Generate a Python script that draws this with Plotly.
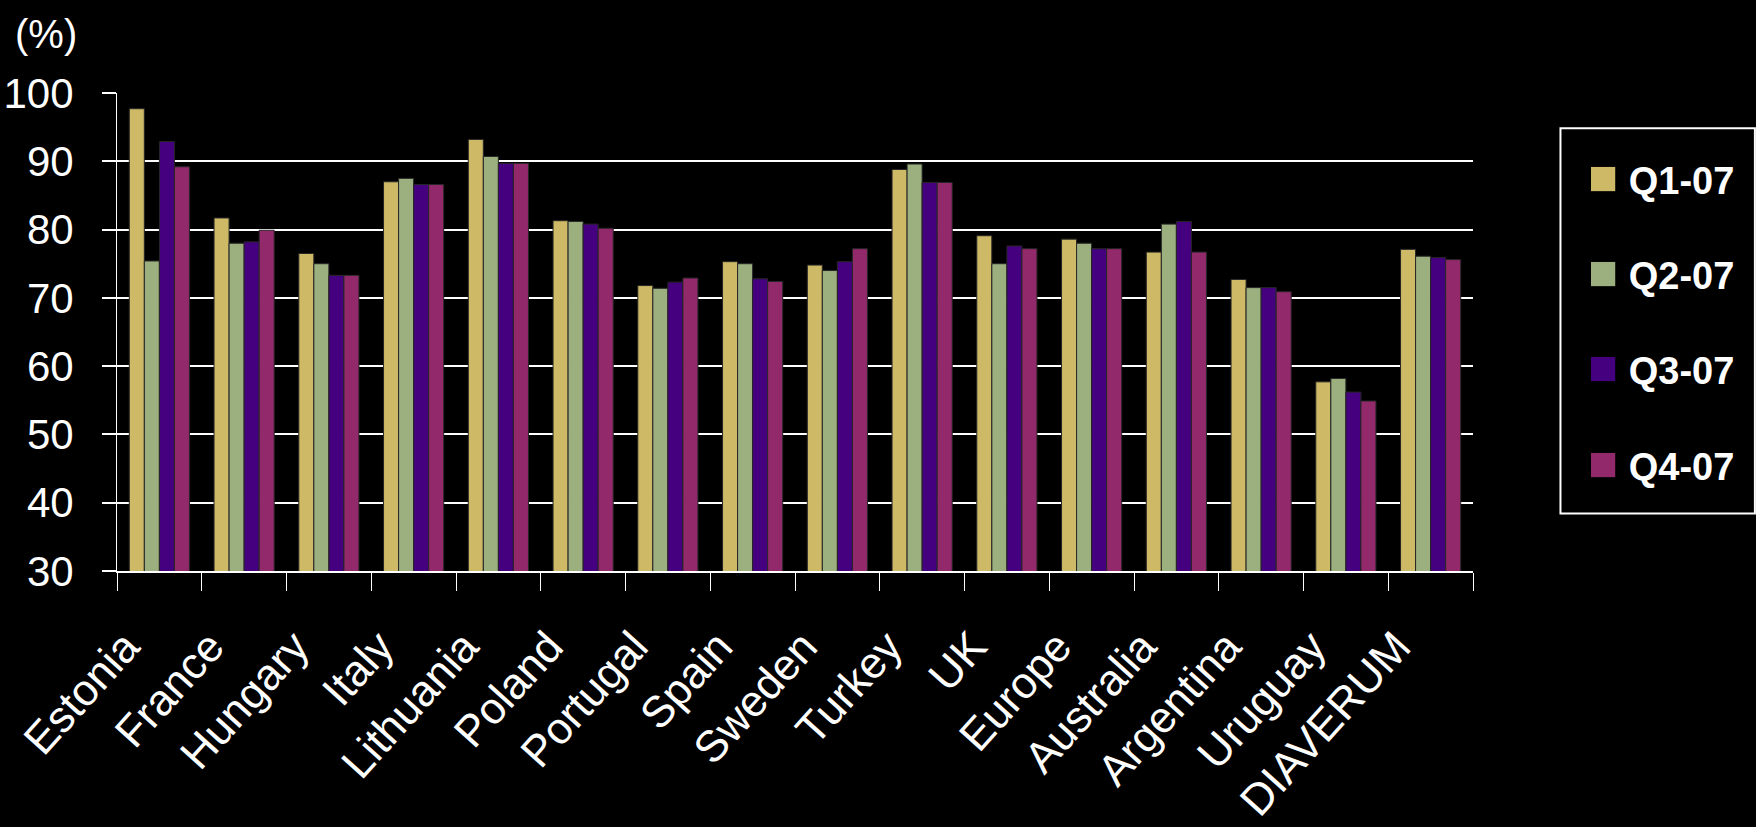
import plotly.graph_objects as go

# Quarterly values (%) per country
countries = ["Estonia", "France", "Hungary", "Italy", "Lithuania", "Poland", "Portugal",
             "Spain", "Sweden", "Turkey", "UK", "Europe", "Australia", "Argentina",
             "Uruguay", "DIAVERUM"]

q1_07 = [97.7, 81.7, 76.5, 87.0, 93.2, 81.3, 71.8, 75.3, 74.8, 88.8, 79.1, 78.6, 76.7, 72.7, 57.7, 77.1]
q2_07 = [75.4, 78.0, 75.0, 87.5, 90.7, 81.2, 71.4, 75.0, 74.0, 89.6, 75.0, 78.0, 80.8, 71.5, 58.2, 76.1]
q3_07 = [92.9, 78.2, 73.3, 86.6, 89.7, 80.8, 72.3, 72.8, 75.3, 86.9, 77.6, 77.2, 81.2, 71.5, 56.2, 75.9]
q4_07 = [89.2, 79.9, 73.3, 86.6, 89.7, 80.2, 72.9, 72.4, 77.2, 86.9, 77.2, 77.2, 76.7, 70.9, 54.9, 75.6]

series_names = ["Q1-07", "Q2-07", "Q3-07", "Q4-07"]
series_values = [q1_07, q2_07, q3_07, q4_07]
series_colors = ["#CDB966", "#9CB07F", "#44007E", "#92296B"]

y_ticks = [30, 40, 50, 60, 70, 80, 90, 100]

FONT = "Liberation Sans, Arial, sans-serif"

fig = go.Figure()
for name, vals, col in zip(series_names, series_values, series_colors):
    fig.add_trace(go.Bar(
        x=countries, y=vals, name=name,
        marker=dict(color=col, line=dict(color="#262626", width=1)),
        showlegend=False,
    ))

# Boxed key on the right: coloured squares followed by the series names
key_x = 1.0835
key_top = 0.8250
key_step = 0.1994
for i, (name, col) in enumerate(zip(series_names, series_colors)):
    fig.add_annotation(
        xref="paper", yref="paper", x=key_x, y=key_top - i * key_step,
        xanchor="left", yanchor="middle", showarrow=False,
        text=f'<span style="color:{col};font-size:50px">■</span> <b>{name}</b>',
        font=dict(family=FONT, size=38, color="white"),
    )
fig.add_shape(type="rect", xref="paper", yref="paper",
              x0=1.0645, x1=1.2079, y0=0.1202, y1=0.9264,
              line=dict(color="white", width=2))

# Unit label above the value axis
fig.add_annotation(xref="paper", yref="paper", x=-0.052, y=1.1233,
                   xanchor="center", yanchor="middle", showarrow=False,
                   text="(%)", font=dict(family=FONT, size=40, color="white"))

fig.update_layout(
    width=1756, height=827,
    paper_bgcolor="black", plot_bgcolor="black",
    margin=dict(l=116.5, r=283, t=93, b=255.5),
    barmode="group", bargap=0.29, bargroupgap=0,
    xaxis=dict(
        type="category", automargin=False, showline=True, linecolor="white", linewidth=2,
        ticks="outside", tickson="boundaries", ticklen=18, tickcolor="white", tickwidth=1,
        tickangle=-48, ticklabelstandoff=30, ticklabelshift=-34, showgrid=False,
        tickfont=dict(family=FONT, size=44, color="white"),
    ),
    yaxis=dict(
        range=[30, 100], tickvals=y_ticks, automargin=False,
        showgrid=True, gridcolor="white", gridwidth=2,
        zeroline=False, showline=True, linecolor="white", linewidth=1,
        ticks="outside", ticklen=14, tickcolor="white", tickwidth=2,
        ticklabelstandoff=20,
        tickfont=dict(family=FONT, size=42, color="white"),
    ),
)

fig.write_html("out.html")
